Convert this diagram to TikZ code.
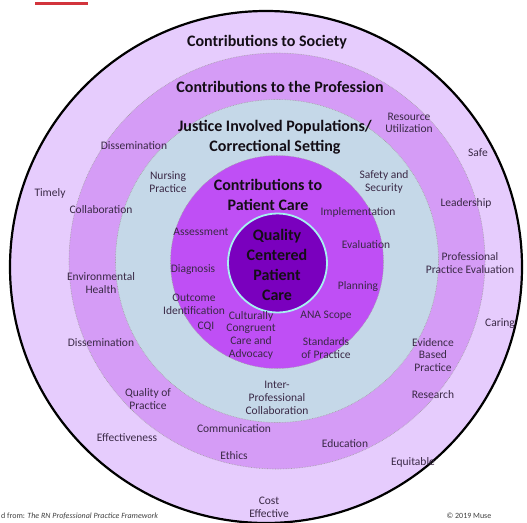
\documentclass[tikz,border=0pt]{standalone}
\usepackage{fontspec}
\setmainfont{Carlito}
\definecolor{ringA}{HTML}{E6CCFD}
\definecolor{ringB}{HTML}{D59CF6}
\definecolor{ringC}{HTML}{C5D8E8}
\definecolor{ringD}{HTML}{BF4FF5}
\definecolor{core}{HTML}{7A00BE}
\definecolor{coreline}{HTML}{A6F2F0}
\definecolor{lblc}{HTML}{3A2946}
\definecolor{hdrc}{HTML}{140E16}
\definecolor{redbar}{HTML}{D2343C}
\begin{document}
\begin{tikzpicture}[x=1pt,y=-1pt,
 lbl/.style={font=\fontsize{11.5}{12.7}\selectfont, text=lblc, align=center, inner sep=0pt},
 hdr/.style={font=\fontsize{16}{20}\selectfont\bfseries, text=hdrc, align=center, inner sep=0pt},
 ring/.style={draw=gray!75, densely dotted, line width=0.6pt},
 note/.style={font=\fontsize{8}{9}\selectfont, text=black!75, inner sep=0pt}]
\useasboundingbox (0,0) rectangle (527,522);
\fill[white] (0,0) rectangle (527,522);
% red bar
\coordinate (r1) at (35,3);
\coordinate (r2) at (88,3);
\draw[redbar, line width=3pt] (r1) -- (r2);
% rings
\fill[ringA, draw=black, line width=2.2pt] (266,267) circle (256);
\fill[ringB] (277,261) circle (208);
\draw[ring] (277,261) circle (208);
\fill[ringC] (277,261) circle (161.5);
\draw[ring] (277,261) circle (161.5);
\fill[ringD] (277,262) circle (106.5);
\draw[ring] (277,262) circle (106.5);
\fill[core, draw=coreline, line width=1.8pt] (277.5,263) circle (49.5);
% headers
\node[hdr] (soc) at (267,42) {Contributions to Society};
\node[hdr] (prof) at (280,87) {Contributions to the Profession};
\node[hdr] (just) at (275,137) {Justice Involved Populations/\\Correctional Setting};
\node[hdr] (pc) at (268,195) {Contributions to\\Patient Care};
\node[hdr] (qc) at (277,265) {Quality\\Centered\\Patient\\Care};
% outer ring labels
\node[lbl] (safe) at (478,153) {Safe};
\node[lbl] (timely) at (50,193) {Timely};
\node[lbl] (lead) at (466,203) {Leadership};
\node[lbl] (ppe) at (470,263) {Professional\\Practice Evaluation};
\node[lbl] (caring) at (500,324) {Caring};
\node[lbl] (equit) at (413,462) {Equitable};
\node[lbl] (cost) at (269,507) {Cost\\Effective};
\node[lbl] (effness) at (127,438) {Effectiveness};
% profession ring labels
\node[lbl] (diss1) at (134,146) {Dissemination};
\node[lbl] (res) at (409,123) {Resource\\Utilization};
\node[lbl] (collab) at (101,210) {Collaboration};
\node[lbl] (env) at (101,283) {Environmental\\Health};
\node[lbl] (diss2) at (101,343) {Dissemination};
\node[lbl] (ebp) at (433,355) {Evidence\\Based\\Practice};
\node[lbl] (resr) at (433,395) {Research};
\node[lbl] (qop) at (148,399) {Quality of\\Practice};
\node[lbl] (comm) at (234,429) {Communication};
\node[lbl] (educ) at (345,444) {Education};
\node[lbl] (ethics) at (234,456) {Ethics};
% justice ring labels
\node[lbl] (np) at (168,182) {Nursing\\Practice};
\node[lbl] (ss) at (384,182) {Safety and\\Security};
\node[lbl] (ipc) at (277,398) {Inter-\\Professional\\Collaboration};
% patient care labels
\node[lbl] (impl) at (358,212) {Implementation};
\node[lbl] (assess) at (201,232) {Assessment};
\node[lbl] (eval) at (366,245) {Evaluation};
\node[lbl] (diag) at (193,270) {Diagnosis};
\node[lbl] (plan) at (358,286) {Planning};
\node[lbl] (oi) at (194,304) {Outcome\\Identification};
\node[lbl] (cqi) at (206,327) {CQI};
\node[lbl] (ccca) at (251,335) {Culturally\\Congruent\\Care and\\Advocacy};
\node[lbl] (ana) at (326,316) {ANA Scope};
\node[lbl] (sop) at (326,348) {Standards\\of Practice};
% footnotes
\node[note, anchor=west] (src) at (1,516) {d from: \textit{The RN Professional Practice Framework}};
\node[note] (copy) at (469,516) {© 2019 Muse};
\end{tikzpicture}
\end{document}
